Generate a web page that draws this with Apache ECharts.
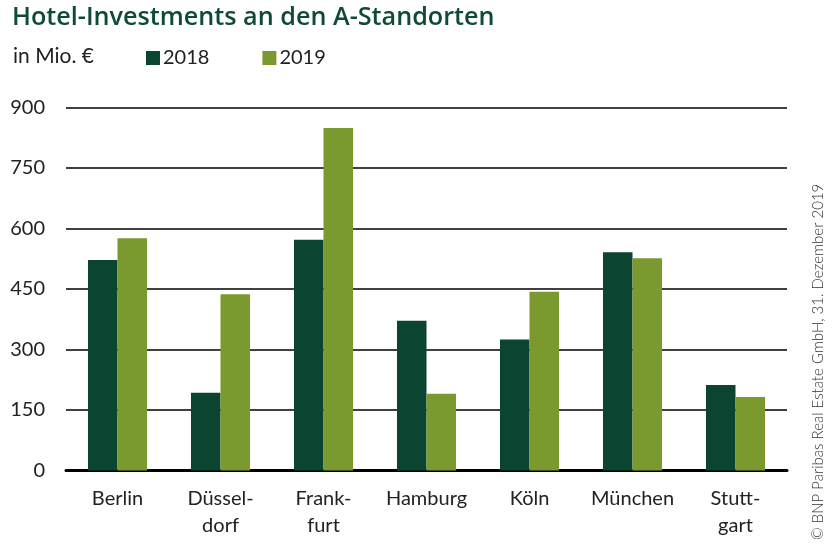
<!DOCTYPE html>
<html><head><meta charset="utf-8">
<script src="https://cdn.jsdelivr.net/npm/echarts@6/dist/echarts.min.js"></script>
<style>html,body{margin:0;padding:0;background:#fff}#c{width:835px;height:548px}</style>
</head><body><div id="c"></div>
<script>
const categories = ['Berlin', 'Düssel-\ndorf', 'Frank-\nfurt', 'Hamburg', 'Köln', 'München', 'Stutt-\ngart'];
const values2018 = [522, 193, 572, 371, 325, 541, 212];
const values2019 = [576, 437, 849, 190, 443, 526, 182];
const yTicks = [0, 150, 300, 450, 600, 750, 900];
const seriesNames = ['2018', '2019'];
const colors = ['#0b4431', '#7a992e'];
const FONT = 'Lato';

const chart = echarts.init(document.getElementById('c'));
chart.setOption({
  animation: false,
  textStyle: { fontFamily: FONT },
  title: [{
    text: 'Hotel-Investments an den A-Standorten',
    left: 12, top: 5, padding: 0,
    textStyle: { fontFamily: 'Open Sans', fontSize: 25.2, fontWeight: 600, color: '#0e4a35' }
  }, {
    text: 'in Mio. €',
    left: 13, top: 46, padding: 0,
    textStyle: { fontFamily: FONT, fontSize: 21, fontWeight: 'normal', color: '#222' }
  }],
  legend: {
    left: 141, top: 43,
    itemWidth: 14, itemHeight: 14, itemGap: 53,
    icon: 'rect',
    data: seriesNames,
    textStyle: { fontFamily: FONT, fontSize: 20, color: '#222', padding: [0, 0, 0, -2] }
  },
  grid: { left: 66, right: 48, top: 107.5, bottom: 77.5, containLabel: false },
  xAxis: {
    type: 'category', data: categories,
    axisTick: { show: false },
    axisLine: { lineStyle: { color: '#000', width: 3 } },
    axisLabel: { fontFamily: FONT, fontSize: 20, color: '#222', margin: 15, lineHeight: 27, interval: 0 }
  },
  yAxis: {
    type: 'value', min: 0, max: 900, interval: 150,
    axisLine: { show: false }, axisTick: { show: false },
    splitLine: { lineStyle: { color: '#000', width: 1.5 } },
    axisLabel: { fontFamily: FONT, fontSize: 20, color: '#222', margin: 21,
      formatter: v => yTicks.includes(v) ? String(v) : '' }
  },
  series: [{
    name: seriesNames[0], type: 'bar', data: values2018, barGap: '0%', barCategoryGap: '42.7%',
    itemStyle: { color: colors[0] }, z: 3
  }, {
    name: seriesNames[1], type: 'bar', data: values2019, barGap: '0%', barCategoryGap: '42.7%',
    itemStyle: { color: colors[1] }, z: 3
  }],
  graphic: [{
    type: 'text', x: 811, y: 540, rotation: Math.PI / 2,
    style: { text: '© BNP Paribas Real Estate GmbH, 31. Dezember 2019', fontFamily: FONT, fontSize: 15, fontWeight: 300, fill: '#333', textVerticalAlign: 'top' }
  }]
});
</script></body></html>
